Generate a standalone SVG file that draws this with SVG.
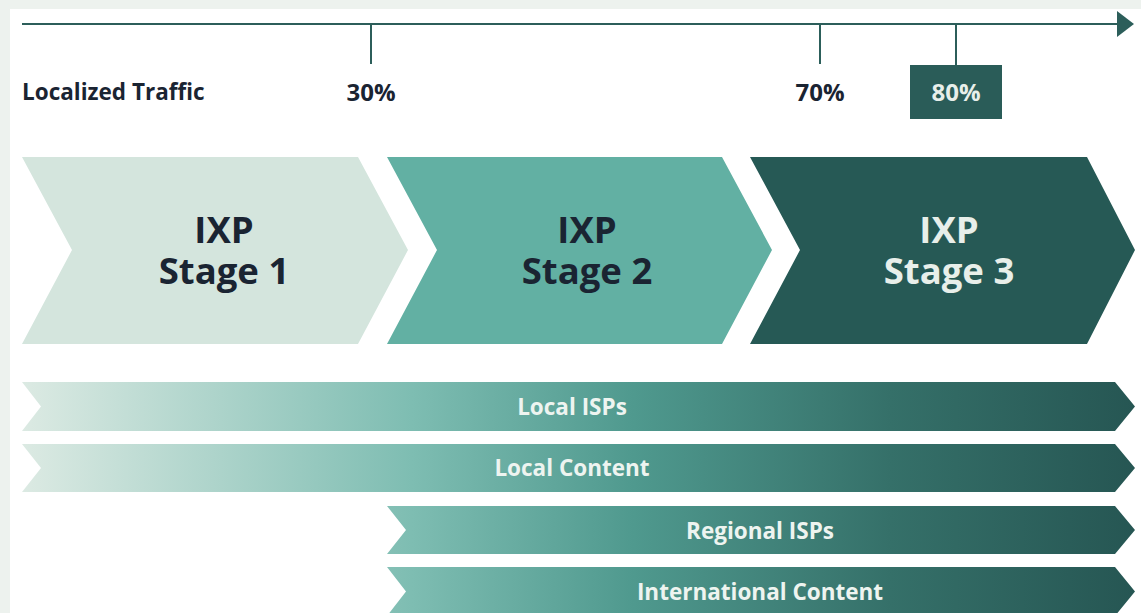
<svg xmlns="http://www.w3.org/2000/svg" width="1141" height="613" viewBox="0 0 1141 613">
<defs>
<linearGradient id="barGrad" gradientUnits="userSpaceOnUse" x1="22" y1="0" x2="1135" y2="0">
<stop offset="0" stop-color="#DCEAE3"/>
<stop offset="0.35" stop-color="#7EBDB2"/>
<stop offset="0.55" stop-color="#4F998E"/>
<stop offset="0.78" stop-color="#357069"/>
<stop offset="1" stop-color="#265653"/>
</linearGradient>
<marker id="arrowHead" markerWidth="18" markerHeight="26" refX="0" refY="13" orient="auto" markerUnits="userSpaceOnUse">
<path d="M0,0 L17,13 L0,26 Z" fill="#2C5E5A"/>
</marker>
<style>
.axis{stroke:#2C5E5A;stroke-width:2;fill:none}
.lbl{font-family:"Open Sans","Noto Sans","Liberation Sans",sans-serif;font-weight:700;fill:#1A2432}
.stage{font-family:"Open Sans","Noto Sans","Liberation Sans",sans-serif;font-weight:700;font-size:36.5px;text-anchor:middle}
.bartxt{font-family:"Open Sans","Noto Sans","Liberation Sans",sans-serif;font-weight:700;font-size:22.5px;fill:#EEF4F0;text-anchor:middle}
</style>
</defs>
<rect x="0" y="0" width="1141" height="613" fill="#EDF2EE"/>
<rect x="10" y="9" width="1131" height="604" fill="#FFFFFF"/>

<g id="connectors">
<line class="axis" x1="22" y1="24" x2="1117" y2="24" marker-end="url(#arrowHead)"/>
<line class="axis" x1="371" y1="24" x2="371" y2="64"/>
<line class="axis" x1="820" y1="24" x2="820" y2="64"/>
<line class="axis" x1="956" y1="24" x2="956" y2="65"/>
</g>

<g id="axis-label">
<text class="lbl" x="22" y="100" font-size="22.5">Localized Traffic</text>
</g>
<g id="tick-30">
<text class="lbl" x="371" y="101" font-size="24" text-anchor="middle">30%</text>
</g>
<g id="tick-70">
<text class="lbl" x="820" y="101" font-size="24" text-anchor="middle">70%</text>
</g>
<g id="tick-80">
<rect x="910" y="65" width="92" height="54" fill="#2A5C58"/>
<text class="lbl" x="956" y="101" font-size="24" text-anchor="middle" style="fill:#E8EFEA">80%</text>
</g>

<g id="stage-1">
<polygon points="22,157 358,157 408,250 358,344 22,344 72,250" fill="#D4E5DD"/>
<text class="stage" fill="#1A2432"><tspan x="224" y="243">IXP</tspan><tspan x="224" y="284">Stage 1</tspan></text>
</g>
<g id="stage-2">
<polygon points="387,157 722,157 772,250 722,344 387,344 437,250" fill="#62B0A3"/>
<text class="stage" fill="#1A2432"><tspan x="587" y="243">IXP</tspan><tspan x="587" y="284">Stage 2</tspan></text>
</g>
<g id="stage-3">
<polygon points="750,157 1087,157 1135,250 1087,344 750,344 800,250" fill="#265955"/>
<text class="stage" fill="#E8EFEA"><tspan x="949" y="243">IXP</tspan><tspan x="949" y="284">Stage 3</tspan></text>
</g>

<g id="bar-local-isps">
<polygon points="22,382 1115,382 1135,406.5 1115,431 22,431 41,406.5" fill="url(#barGrad)"/>
<text class="bartxt" x="572" y="415">Local ISPs</text>
</g>
<g id="bar-local-content">
<polygon points="22,444 1115,444 1135,468 1115,492 22,492 41,468" fill="url(#barGrad)"/>
<text class="bartxt" x="572" y="476">Local Content</text>
</g>
<g id="bar-regional-isps">
<polygon points="387,506 1115,506 1135,530 1115,554 387,554 406,530" fill="url(#barGrad)"/>
<text class="bartxt" x="760" y="539">Regional ISPs</text>
</g>
<g id="bar-international-content">
<polygon points="387,567 1115,567 1135,591.5 1115,616 387,616 406,591.5" fill="url(#barGrad)"/>
<text class="bartxt" x="760" y="600">International Content</text>
</g>
</svg>
